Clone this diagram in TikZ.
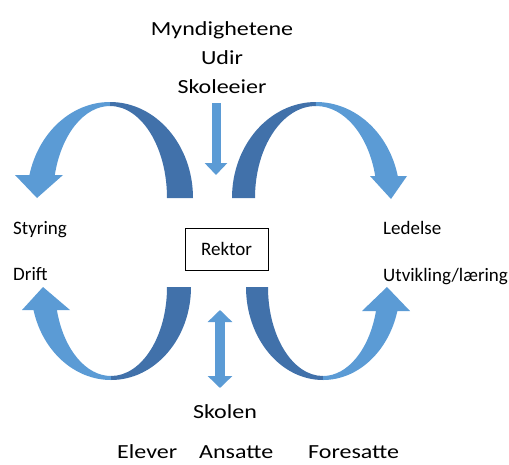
\documentclass[tikz,border=0pt]{standalone}
\usepackage{fontspec}
\setmainfont{Carlito}
\newfontfamily\widefont{Carlito}[FakeStretch=1.2]
\usetikzlibrary{arrows.meta}
\definecolor{lysblaa}{RGB}{91,155,213}
\definecolor{morkblaa}{RGB}{65,113,170}

\begin{document}
\begin{tikzpicture}[x=1pt,y=-1pt]
        \useasboundingbox (0,0) rectangle (509,464);
        \begin{scope}[every node/.style={font=\widefont\fontsize{20}{24}\selectfont,anchor=base,inner sep=0pt}]
            \node (myn)    at (222,35)  {Myndighetene};
            \node (udir)   at (222,64)  {Udir};
            \node (eier)   at (222,93)  {Skoleeier};
            \node (skolen) at (225,418) {Skolen};
            \node[anchor=base west] (elever) at (117,458) {Elever};
            \node[anchor=base west] (ansatte) at (199,458) {Ansatte};
            \node[anchor=base west] (foresatte) at (308,458) {Foresatte};
        \end{scope}
        \begin{scope}[every node/.style={font=\fontsize{19}{23}\selectfont,anchor=base west,inner sep=0pt}]
            \node (styring) at (13,234)  {Styring};
            \node (drift)   at (13,280)  {Drift};
            \node (ledelse) at (383,234) {Ledelse};
            \node (utv)     at (383,281) {Utvikling/læring};
        \end{scope}
        \node[draw,line width=0.8pt,minimum width=83pt,minimum height=42pt,
              font=\fontsize{19}{23}\selectfont] (rektor) at (226.5,249) {Rektor};
        % buede piler
        \begin{scope}
            \fill[morkblaa] (193,198) arc[start angle=0,end angle=-90,x radius=83,y radius=96]
                -- (110,106) arc[start angle=-90,end angle=0,x radius=57,y radius=92] -- cycle;
            \fill[lysblaa] (110,102) arc[start angle=-90,end angle=-166.14,x radius=83,y radius=96]
                -- (15,175) -- (37,198) -- (63,175)
                -- (54.8,175) arc[start angle=-165.52,end angle=-90,x radius=57,y radius=92] -- cycle;
            \fill[morkblaa] (232,198) arc[start angle=-180,end angle=-90,x radius=84,y radius=96]
                -- (316,106) arc[start angle=-90,end angle=-180,x radius=61,y radius=92] -- cycle;
            \fill[lysblaa] (316,102) arc[start angle=-90,end angle=-13.25,x radius=84,y radius=96]
                -- (407,176) -- (391,199) -- (370,176)
                -- (375.2,176) arc[start angle=-13.84,end angle=-90,x radius=61,y radius=92] -- cycle;
            \fill[morkblaa] (191,287) arc[start angle=0,end angle=90,x radius=80,y radius=93]
                -- (111,376) arc[start angle=90,end angle=0,x radius=56,y radius=89] -- cycle;
            \fill[lysblaa] (111,380) arc[start angle=90,end angle=165.68,x radius=80,y radius=93]
                -- (22,310) -- (43,287) -- (70,310)
                -- (56.9,310) arc[start angle=165.02,end angle=90,x radius=56,y radius=89] -- cycle;
            \fill[morkblaa] (246,287) arc[start angle=180,end angle=90,x radius=77,y radius=93]
                -- (323,376) arc[start angle=90,end angle=180,x radius=55,y radius=89] -- cycle;
            \fill[lysblaa] (323,380) arc[start angle=90,end angle=14.96,x radius=77,y radius=93]
                -- (410,311) -- (387,287) -- (362,311)
                -- (376,311) arc[start angle=15.64,end angle=90,x radius=55,y radius=89] -- cycle;
        \end{scope}
        % rette piler
        \coordinate (ned1) at (216,103);
        \coordinate (ned2) at (216,175);
        \coordinate (dob1) at (220,310);
        \coordinate (dob2) at (220,388);
        \draw[lysblaa,line width=9pt,-{Triangle[width=22pt,length=12pt]}] (ned1)--(ned2);
        \draw[lysblaa,line width=10pt,{Triangle[width=24pt,length=12pt]}-{Triangle[width=24pt,length=12pt]}] (dob1)--(dob2);
\end{tikzpicture}
\end{document}
